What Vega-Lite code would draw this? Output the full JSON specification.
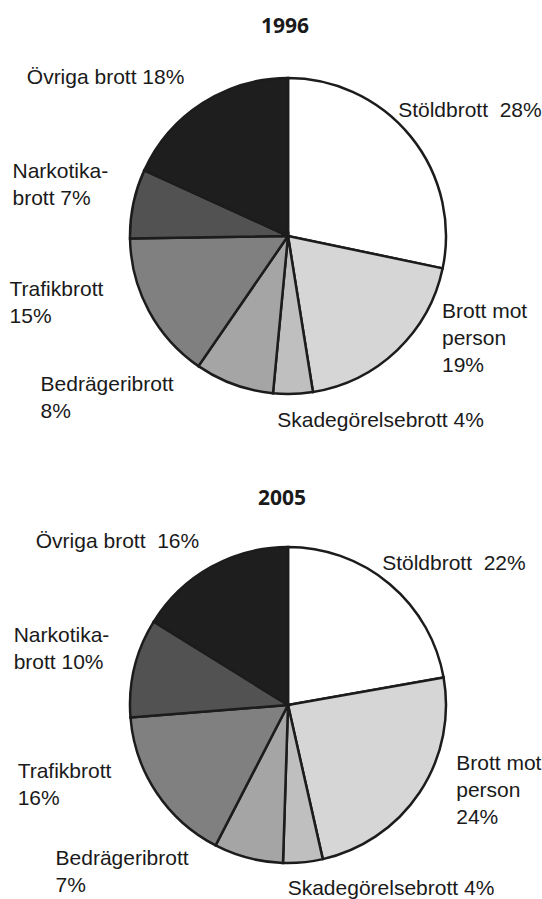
{
  "$schema": "https://vega.github.io/schema/vega-lite/v6.json",
  "padding": {"left": 9, "top": 16, "right": 0, "bottom": 0},
  "background": "white",
  "bounds": "flush",
  "spacing": 82,
  "config": {"view": {"stroke": null}},
  "data": {
    "values": [
      {"year": "1996", "idx": 1, "cat": "Stöldbrott", "value": 28, "label": "Stöldbrott\u00a0 28%"},
      {"year": "1996", "idx": 2, "cat": "Brott mot person", "value": 19, "label": "Brott mot\nperson\n19%"},
      {"year": "1996", "idx": 3, "cat": "Skadegörelsebrott", "value": 4, "label": "Skadegörelsebrott 4%"},
      {"year": "1996", "idx": 4, "cat": "Bedrägeribrott", "value": 8, "label": "Bedrägeribrott\n8%"},
      {"year": "1996", "idx": 5, "cat": "Trafikbrott", "value": 15, "label": "Trafikbrott\n15%"},
      {"year": "1996", "idx": 6, "cat": "Narkotikabrott", "value": 7, "label": "Narkotika-\nbrott 7%"},
      {"year": "1996", "idx": 7, "cat": "Övriga brott", "value": 18, "label": "Övriga brott 18%"},
      {"year": "2005", "idx": 1, "cat": "Stöldbrott", "value": 22, "label": "Stöldbrott\u00a0 22%"},
      {"year": "2005", "idx": 2, "cat": "Brott mot person", "value": 24, "label": "Brott mot\nperson\n24%"},
      {"year": "2005", "idx": 3, "cat": "Skadegörelsebrott", "value": 4, "label": "Skadegörelsebrott 4%"},
      {"year": "2005", "idx": 4, "cat": "Bedrägeribrott", "value": 7, "label": "Bedrägeribrott\n7%"},
      {"year": "2005", "idx": 5, "cat": "Trafikbrott", "value": 16, "label": "Trafikbrott\n16%"},
      {"year": "2005", "idx": 6, "cat": "Narkotikabrott", "value": 10, "label": "Narkotika-\nbrott 10%"},
      {"year": "2005", "idx": 7, "cat": "Övriga brott", "value": 16, "label": "Övriga brott\u00a0 16%"}
    ]
  },
  "vconcat": [
    {
      "width": 510,
      "height": 390,
      "title": {"text": "1996", "font": "Open Sans", "fontWeight": "bold", "fontSize": 21, "anchor": "middle", "frame": "group", "offset": 4, "dx": -3, "color": "#1a1a1a"},
      "transform": [{"filter": "datum.year == '1996'"}],
      "encoding": {
        "theta": {"field": "value", "type": "quantitative", "stack": true},
        "order": {"field": "idx", "type": "quantitative", "sort": "ascending"}
      },
      "layer": [
        {
          "mark": {"type": "arc", "outerRadius": 158, "stroke": "#1c1c1c", "strokeWidth": 2.5},
          "encoding": {
            "color": {"field": "cat", "type": "nominal", "legend": null,
              "scale": {"domain": ["Stöldbrott", "Brott mot person", "Skadegörelsebrott", "Bedrägeribrott", "Trafikbrott", "Narkotikabrott", "Övriga brott"],
                        "range": ["#ffffff", "#d6d6d6", "#bfbfbf", "#a5a5a5", "#808080", "#525252", "#1e1e1e"]}}
          }
        },
        {
          "mark": {"type": "text", "lineBreak": "\n", "font": "Liberation Sans", "fontSize": 21, "lineHeight": 27, "align": "left", "baseline": "top", "color": "#1a1a1a",
            "radius": {"expr": "[0,120,100,165,165,165,165,165][datum.idx]"},
            "dx": {"expr": "[0,17,85,-16,-191,-133,-114,-172][datum.idx]"},
            "dy": {"expr": "[0,-60,-7,9,-17,-35,-41,-30][datum.idx]"}},
          "encoding": {"text": {"field": "label", "type": "nominal"}}
        }
      ]
    },
    {
      "width": 510,
      "height": 384,
      "title": {"text": "2005", "font": "Open Sans", "fontWeight": "bold", "fontSize": 21, "anchor": "middle", "frame": "group", "offset": 4, "dx": -6, "color": "#1a1a1a"},
      "transform": [{"filter": "datum.year == '2005'"}],
      "encoding": {
        "theta": {"field": "value", "type": "quantitative", "stack": true},
        "order": {"field": "idx", "type": "quantitative", "sort": "ascending"}
      },
      "layer": [
        {
          "mark": {"type": "arc", "outerRadius": 158, "stroke": "#1c1c1c", "strokeWidth": 2.5},
          "encoding": {
            "color": {"field": "cat", "type": "nominal", "legend": null,
              "scale": {"domain": ["Stöldbrott", "Brott mot person", "Skadegörelsebrott", "Bedrägeribrott", "Trafikbrott", "Narkotikabrott", "Övriga brott"],
                        "range": ["#ffffff", "#d6d6d6", "#bfbfbf", "#a5a5a5", "#808080", "#525252", "#1e1e1e"]}}
          }
        },
        {
          "mark": {"type": "text", "lineBreak": "\n", "font": "Liberation Sans", "fontSize": 21, "lineHeight": 27, "align": "left", "baseline": "top", "color": "#1a1a1a",
            "radius": {"expr": "[0,120,100,165,165,165,165,165][datum.idx]"},
            "dx": {"expr": "[0,17,85,-16,-191,-133,-114,-172][datum.idx]"},
            "dy": {"expr": "[0,-60,-7,9,-17,-35,-41,-30][datum.idx]"}},
          "encoding": {"text": {"field": "label", "type": "nominal"}}
        }
      ]
    }
  ]
}
